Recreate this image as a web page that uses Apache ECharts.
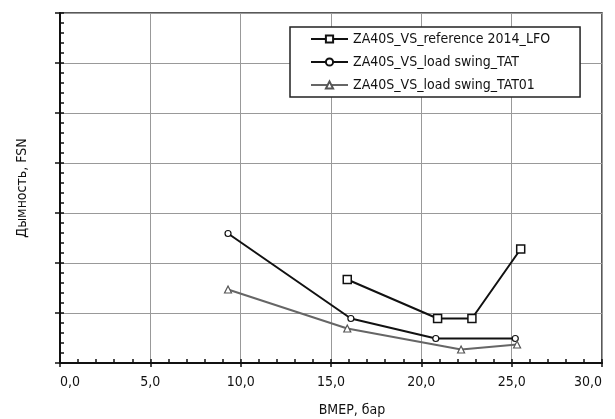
<!DOCTYPE html>
<html>
<head>
<meta charset="utf-8">
<script src="https://cdn.jsdelivr.net/npm/echarts@6/dist/echarts.min.js"></script>
<style>
  html, body { margin: 0; background: #fff; }
  #chart { width: 615px; height: 419px; }
</style>
</head>
<body>
<div id="chart"></div>
<script>
// data
const seriesNames = ['ZA40S_VS_reference 2014_LFO', 'ZA40S_VS_load swing_TAT', 'ZA40S_VS_load swing_TAT01'];
const refX = [15.9, 20.9, 22.8, 25.5];
const refY = [1.67, 0.89, 0.89, 2.28];
const tatX = [9.3, 16.1, 20.8, 25.2];
const tatY = [2.59, 0.89, 0.49, 0.49];
const tat01X = [9.3, 15.9, 22.2, 25.3];
const tat01Y = [1.47, 0.69, 0.27, 0.37];
const xTicks = [0, 5, 10, 15, 20, 25, 30];

const font = '"DejaVu Sans Condensed", "Liberation Sans Narrow", "Liberation Sans", sans-serif';
const zip = (xs, ys) => xs.map((x, i) => [x, ys[i]]);

const myChart = echarts.init(document.getElementById('chart'));

const option = {
  animation: false,
  textStyle: { fontFamily: font },
  grid: {
    left: 60, right: 13, top: 13, bottom: 56,
    outerBoundsMode: 'none',
    show: true, borderColor: '#222', borderWidth: 1.5, backgroundColor: 'transparent',
  },
  legend: {
    orient: 'vertical',
    left: 290, top: 27,
    padding: [5, 30, 5, 20],
    itemGap: 9,
    itemWidth: 37,
    itemHeight: 9,
    backgroundColor: '#fff',
    borderColor: '#222',
    borderWidth: 1.5,
    textStyle: { fontFamily: font, fontSize: 14, color: '#111' },
    data: seriesNames,
  },
  xAxis: [
    {
      type: 'value',
      min: xTicks[0], max: xTicks[xTicks.length - 1], interval: 5,
      name: 'ВМЕР, бар',
      nameLocation: 'middle',
      nameGap: 40,
      nameTextStyle: { fontFamily: font, fontSize: 14, color: '#111', padding: [0, 0, 0, 42] },
      axisLine: { lineStyle: { color: '#111', width: 2 } },
      axisTick: { show: true, inside: true, length: 4, lineStyle: { color: '#111', width: 1.5 } },
      minorTick: { show: true, splitNumber: 5, length: 4, lineStyle: { color: '#111', width: 1.5 } },
      axisLabel: {
        margin: 12, fontSize: 14, color: '#111',
        alignMinLabel: 'left', alignMaxLabel: 'right',
        formatter: v => v.toFixed(1).replace('.', ','),
      },
      splitLine: { show: true, lineStyle: { color: '#999', width: 1 } },
    },
    {
      type: 'value', position: 'bottom',
      min: xTicks[0], max: xTicks[xTicks.length - 1], interval: 5,
      axisLine: { show: false },
      axisTick: { show: true, inside: false, length: 4, lineStyle: { color: '#111', width: 1.5 } },
      axisLabel: { show: false },
      splitLine: { show: false },
    },
  ],
  yAxis: [
    {
      type: 'value',
      min: 0, max: 7, interval: 1,
      name: 'Дымность, FSN',
      nameLocation: 'middle',
      nameGap: 31,
      nameTextStyle: { fontFamily: font, fontSize: 14, color: '#111' },
      axisLine: { show: true, lineStyle: { color: '#111', width: 2 } },
      axisTick: { show: true, inside: true, length: 4, lineStyle: { color: '#111', width: 1.5 } },
      minorTick: { show: true, splitNumber: 5, length: 4, lineStyle: { color: '#111', width: 1.5 } },
      axisLabel: { show: false },
      splitLine: { show: true, lineStyle: { color: '#999', width: 1 } },
    },
    {
      type: 'value', position: 'left',
      min: 0, max: 7, interval: 1,
      axisLine: { show: false },
      axisTick: { show: true, inside: false, length: 5, lineStyle: { color: '#111', width: 1.5 } },
      axisLabel: { show: false },
      splitLine: { show: false },
    },
  ],
  series: [
    {
      name: seriesNames[0], type: 'line',
      data: zip(refX, refY),
      symbol: 'rect', symbolSize: 8,
      lineStyle: { color: '#111', width: 2 },
      itemStyle: { color: '#fff', borderColor: '#111', borderWidth: 1.5 },
    },
    {
      name: seriesNames[1], type: 'line',
      data: zip(tatX, tatY),
      symbol: 'circle', symbolSize: 6,
      lineStyle: { color: '#111', width: 2 },
      itemStyle: { color: '#fff', borderColor: '#111', borderWidth: 1.2 },
    },
    {
      name: seriesNames[2], type: 'line',
      data: zip(tat01X, tat01Y),
      symbol: 'triangle', symbolSize: 7,
      lineStyle: { color: '#666', width: 2 },
      itemStyle: { color: '#fff', borderColor: '#555', borderWidth: 1.2 },
    },
  ],
};
myChart.setOption(option);
</script>
</body>
</html>
